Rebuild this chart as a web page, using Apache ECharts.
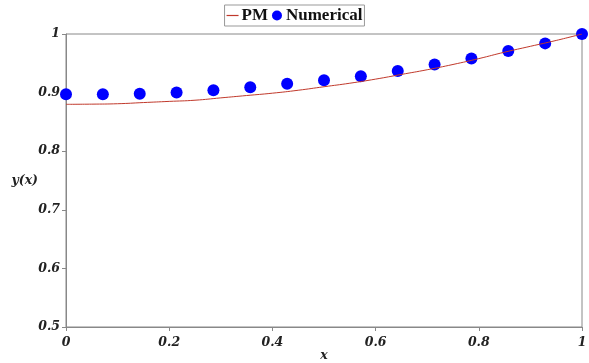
<!DOCTYPE html>
<html>
<head>
<meta charset="utf-8">
<script src="https://cdn.jsdelivr.net/npm/echarts@6/dist/echarts.min.js"></script>
<style>html,body{margin:0;padding:0;background:#fff;}#c{width:589px;height:363px;}</style>
</head>
<body>
<div id="c"></div>
<script>
// PM curve samples (x, y)
const pmX = [0, 0.05, 0.1, 0.15, 0.2, 0.25, 0.3, 0.35, 0.4, 0.45, 0.5, 0.55, 0.6, 0.65, 0.7, 0.75, 0.8, 0.85, 0.9, 0.95, 1.0];
const pmY = [0.880, 0.8803, 0.881, 0.883, 0.885, 0.887, 0.891, 0.895, 0.899, 0.904, 0.910, 0.916, 0.923, 0.931, 0.939, 0.948, 0.958, 0.969, 0.979, 0.989, 1.0];
// Numerical points
const numX = [0, 0.0714, 0.1429, 0.2143, 0.2857, 0.3571, 0.4286, 0.5, 0.5714, 0.6429, 0.7143, 0.7857, 0.8571, 0.9286, 1.0];
const numY = [0.897, 0.897, 0.898, 0.900, 0.904, 0.909, 0.915, 0.921, 0.928, 0.937, 0.948, 0.958, 0.971, 0.984, 1.0];
const xTicks = [0, 0.2, 0.4, 0.6, 0.8, 1];
const yTicks = [0.5, 0.6, 0.7, 0.8, 0.9, 1];

const chart = echarts.init(document.getElementById('c'), null, {renderer: 'canvas'});
const axisFont = {fontFamily: 'DejaVu Serif', fontStyle: 'italic', fontWeight: 'bold', fontSize: 12.5, color: '#222'};
chart.setOption({
  animation: false,
  backgroundColor: '#fff',
  legend: {
    top: 5, left: 'center',
    data: [{name: 'PM', icon: 'path://M0,0 L10,0 L10,1 L0,1 Z'}, {name: 'Numerical', icon: 'circle'}],
    borderColor: '#999', borderWidth: 1, padding: [2, 2, 2, 2],
    itemGap: 4, itemWidth: 12, itemHeight: 10,
    textStyle: {fontFamily: 'Liberation Serif', fontWeight: 'bold', fontSize: 17, color: '#111', padding: [0,0,0,-2]}
  },
  grid: {left: 66, right: 7, top: 34, bottom: 36, show: true, borderColor: '#888', borderWidth: 1, containLabel: false, outerBoundsMode: 'none'},
  xAxis: {
    type: 'value', min: 0, max: 1, interval: 0.2,
    name: 'x', nameLocation: 'middle', nameGap: 22, nameMoveOverlap: false,
    nameTextStyle: axisFont,
    axisLine: {lineStyle: {color: '#888'}},
    axisTick: {show: true, length: 4, lineStyle: {color: '#888'}},
    splitLine: {show: false},
    axisLabel: Object.assign({margin: 9, formatter: v => String(+v.toFixed(1))}, axisFont)
  },
  yAxis: {
    type: 'value', min: 0.5, max: 1, interval: 0.1,
    name: 'y(x)', nameLocation: 'middle', nameGap: 28, nameRotate: 0, nameMoveOverlap: false,
    nameTextStyle: axisFont,
    axisLine: {show: true, lineStyle: {color: '#888'}},
    axisTick: {show: true, length: 4, lineStyle: {color: '#888'}},
    splitLine: {show: false},
    axisLabel: Object.assign({margin: 6, formatter: v => String(+v.toFixed(1))}, axisFont)
  },
  series: [
    {
      name: 'PM', type: 'line', symbol: 'none', smooth: true,
      data: pmX.map((x, i) => [x, pmY[i]]),
      lineStyle: {color: '#c0392b', width: 1},
      itemStyle: {color: '#c0392b'}
    },
    {
      name: 'Numerical', type: 'scatter', symbol: 'circle', symbolSize: 12,
      data: numX.map((x, i) => [x, numY[i]]),
      itemStyle: {color: '#0000ff', opacity: 1}
    }
  ]
});
</script>
</body>
</html>
